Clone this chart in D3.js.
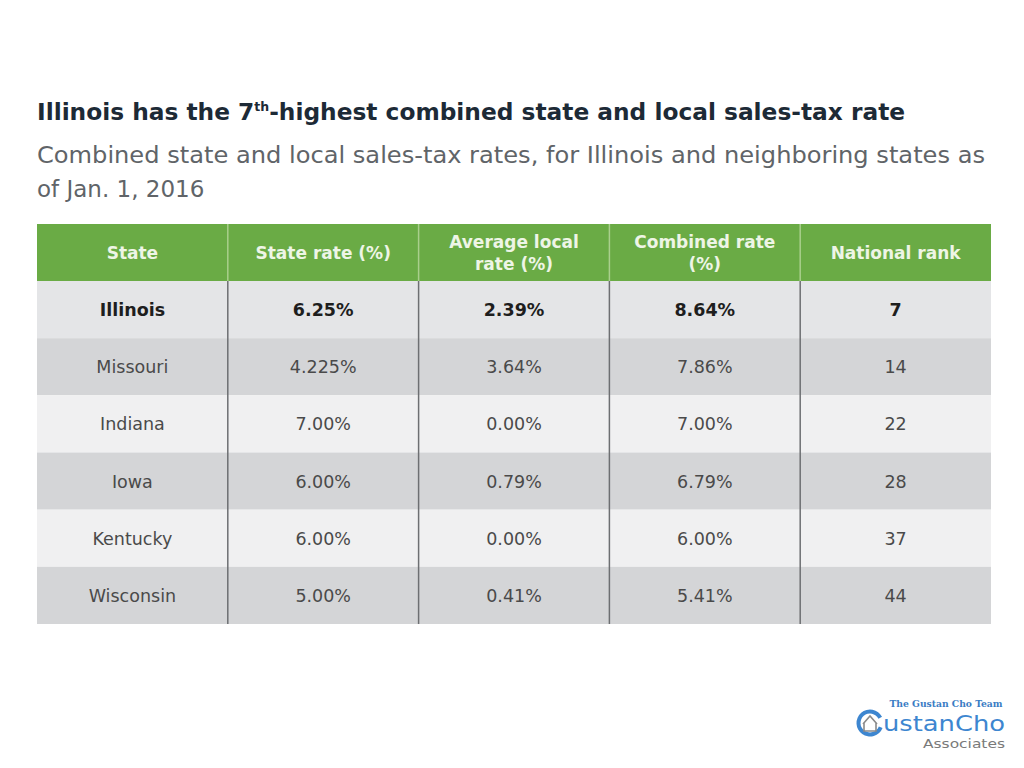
<!DOCTYPE html>
<html><head><meta charset="utf-8">
<script src="https://cdn.jsdelivr.net/npm/d3@7"></script>
<style>body{margin:0;background:#fff;}svg{display:block;}</style>
</head><body>
<svg id="c" width="1024" height="768"></svg>
<script>
const headers = [["State"], ["State rate (%)"], ["Average local", "rate (%)"], ["Combined rate", "(%)"], ["National rank"]];
const states = ["Illinois", "Missouri", "Indiana", "Iowa", "Kentucky", "Wisconsin"];
const stateRate = ["6.25%", "4.225%", "7.00%", "6.00%", "6.00%", "5.00%"];
const localRate = ["2.39%", "3.64%", "0.00%", "0.79%", "0.00%", "0.41%"];
const combinedRate = ["8.64%", "7.86%", "7.00%", "6.79%", "6.00%", "5.41%"];
const nationalRank = ["7", "14", "22", "28", "37", "44"];

const svg = d3.select("#c");
const font = "DejaVu Sans, Verdana, sans-serif";

// Title
const t = svg.append("text").attr("x", 37).attr("y", 120)
  .attr("font-family", font).attr("font-weight", "bold").attr("font-size", 23.3)
  .attr("fill", "#1d2a36");
t.append("tspan").text("Illinois has the 7");
t.append("tspan").text("th").attr("font-size", 12.5).attr("dy", -9);
t.append("tspan").text("-highest combined state and local sales-tax rate").attr("dy", 9);

svg.append("text").attr("x", 37).attr("y", 163).attr("font-family", font)
  .attr("font-size", 23).attr("fill", "#606468")
  .attr("textLength", 948).attr("lengthAdjust", "spacingAndGlyphs")
  .text("Combined state and local sales-tax rates, for Illinois and neighboring states as");
svg.append("text").attr("x", 37).attr("y", 197).attr("font-family", font)
  .attr("font-size", 23).attr("fill", "#606468")
  .text("of Jan. 1, 2016");

// Table
const x = d3.scaleBand().domain(d3.range(headers.length)).range([37, 991]);
const y = d3.scaleBand().domain(d3.range(states.length)).range([281, 624]);
const headerTop = 224;

svg.append("rect").attr("x", 37).attr("y", headerTop).attr("width", 954).attr("height", 281 - headerTop)
  .attr("fill", "#6aab45");

headers.forEach((h, i) => {
  const cx = x(i) + x.bandwidth() / 2;
  const cy = headerTop + (281 - headerTop) / 2;
  const lh = 22;
  h.forEach((line, j) => {
    svg.append("text").attr("x", cx).attr("y", cy + (j - (h.length - 1) / 2) * lh + 6)
      .attr("text-anchor", "middle").attr("font-family", font).attr("font-weight", "bold")
      .attr("font-size", 17).attr("fill", "#eef5e6").text(line);
  });
});

const rowFill = ["#e4e5e7", "#d4d5d7", "#f0f0f1", "#d4d5d7", "#f0f0f1", "#d4d5d7"];
const rows = states.map((s, i) => [s, stateRate[i], localRate[i], combinedRate[i], nationalRank[i]]);

svg.selectAll("rect.row").data(rows).join("rect").attr("class", "row")
  .attr("x", 37).attr("y", (d, i) => y(i)).attr("width", 954).attr("height", y.bandwidth())
  .attr("fill", (d, i) => rowFill[i]);

rows.forEach((r, i) => {
  r.forEach((v, j) => {
    svg.append("text").attr("x", x(j) + x.bandwidth() / 2).attr("y", y(i) + y.bandwidth() / 2 + 6.5)
      .attr("text-anchor", "middle").attr("font-family", font)
      .attr("font-weight", i === 0 ? "bold" : "normal")
      .attr("font-size", 17.5).attr("fill", i === 0 ? "#1e1e1e" : "#4a4a4a").text(v);
  });
});

// vertical separators
d3.range(1, headers.length).forEach(i => {
  svg.append("line").attr("x1", x(i)).attr("x2", x(i)).attr("y1", headerTop).attr("y2", 281)
    .attr("stroke", "#a9cf8c").attr("stroke-width", 1.5);
  svg.append("line").attr("x1", x(i)).attr("x2", x(i)).attr("y1", 281).attr("y2", 624)
    .attr("stroke", "#6d6f72").attr("stroke-width", 1.5);
});

// Logo
const lg = svg.append("g");
lg.append("text").attr("x", 946).attr("y", 707).attr("text-anchor", "middle")
  .attr("font-family", "DejaVu Serif, serif").attr("font-weight", "bold").attr("font-size", 10)
  .attr("fill", "#3a7cc4").attr("textLength", 113).attr("lengthAdjust", "spacingAndGlyphs")
  .text("The Gustan Cho Team");
const arc = d3.arc().innerRadius(9.5).outerRadius(13.5)
  .startAngle(Math.PI * 0.62).endAngle(Math.PI * 2.35);
lg.append("path").attr("d", arc()).attr("transform", "translate(870,723)").attr("fill", "#3d86d0");
lg.append("path").attr("d", "M863,724 L870,716 L877,724 M864,723 L864,731 L876,731 L876,723").attr("fill", "none")
  .attr("stroke", "#8a8a8a").attr("stroke-width", 1.6);
lg.append("text").attr("x", 883).attr("y", 731)
  .attr("font-family", "DejaVu Sans, sans-serif").attr("font-size", 21).attr("fill", "#3d86d0")
  .attr("textLength", 122).attr("lengthAdjust", "spacingAndGlyphs").text("ustanCho");
lg.append("text").attr("x", 1005).attr("y", 748).attr("text-anchor", "end")
  .attr("font-family", "DejaVu Sans, sans-serif").attr("font-size", 13).attr("fill", "#7a7a7a")
  .attr("textLength", 82).attr("lengthAdjust", "spacingAndGlyphs").text("Associates");
</script>
</body></html>
